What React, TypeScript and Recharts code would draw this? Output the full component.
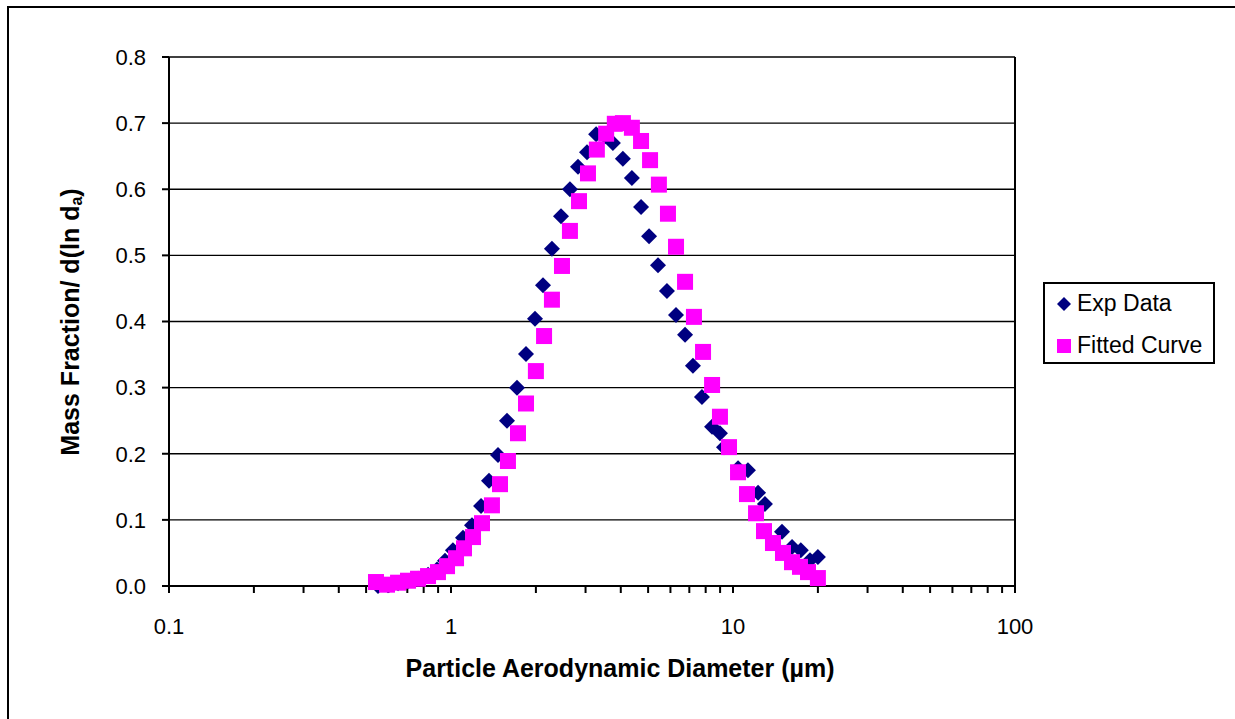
import React from "react";
import {
  ScatterChart,
  Scatter,
  XAxis,
  YAxis,
  CartesianGrid,
  ReferenceLine,
} from "recharts";

// Exp Data (blue diamonds): diameter in µm, mass fraction / d(ln da)
const expDiam = [
  0.551, 0.598, 0.649, 0.704, 0.764, 0.829, 0.892, 0.952, 1.016, 1.103, 1.187,
  1.278, 1.364, 1.468, 1.58, 1.714, 1.845, 1.986, 2.12, 2.28, 2.455, 2.641,
  2.82, 3.035, 3.27, 3.52, 3.75, 4.07, 4.38, 4.72, 5.04, 5.42, 5.83, 6.28,
  6.76, 7.21, 7.76, 8.43, 8.99, 9.29, 10.42, 11.3, 12.27, 12.98, 14.92, 16.2,
  17.4, 18.75, 20.0,
];
const expMass = [
  0.0, 0.001, 0.004, 0.007, 0.011, 0.017, 0.025, 0.038, 0.054, 0.073, 0.092,
  0.121, 0.159, 0.198, 0.25, 0.3, 0.351, 0.404, 0.455, 0.51, 0.559, 0.6,
  0.634, 0.656, 0.683, 0.68, 0.67, 0.646, 0.617, 0.573, 0.529, 0.485, 0.446,
  0.41, 0.38, 0.333, 0.286, 0.241, 0.231, 0.21, 0.178, 0.175, 0.141, 0.124,
  0.082, 0.059, 0.054, 0.039, 0.044,
];

// Fitted Curve (magenta squares)
const fitDiam = [
  0.542, 0.593, 0.649, 0.704, 0.764, 0.829, 0.899, 0.968, 1.042, 1.112, 1.197,
  1.288, 1.397, 1.492, 1.592, 1.728, 1.845, 2.0, 2.138, 2.28, 2.475, 2.641,
  2.844, 3.06, 3.29, 3.55, 3.81, 4.07, 4.38, 4.72, 5.08, 5.46, 5.88, 6.28,
  6.76, 7.27, 7.83, 8.43, 8.99, 9.68, 10.42, 11.21, 12.07, 12.88, 13.86, 15.04,
  16.19, 17.28, 18.45, 20.0,
];
const fitMass = [
  0.006, 0.002, 0.005, 0.008, 0.011, 0.015, 0.021, 0.03, 0.042, 0.057, 0.074,
  0.095, 0.122, 0.154, 0.189, 0.231, 0.276, 0.325, 0.378, 0.433, 0.484, 0.537,
  0.582, 0.624, 0.66, 0.684, 0.699, 0.7, 0.693, 0.673, 0.644, 0.607, 0.563,
  0.513, 0.46, 0.407, 0.354, 0.304, 0.256, 0.21, 0.172, 0.139, 0.11, 0.083,
  0.065, 0.05, 0.036, 0.029, 0.021, 0.012,
];

const decadeTicks = [0.1, 1, 10, 100];
const minorTicks = [
  0.2, 0.3, 0.4, 0.5, 0.6, 0.7, 0.8, 0.9, 2, 3, 4, 5, 6, 7, 8, 9, 20, 30, 40,
  50, 60, 70, 80, 90,
];
const yTicks = [0, 0.1, 0.2, 0.3, 0.4, 0.5, 0.6, 0.7, 0.8];

const expData = expDiam.map((d, i) => ({ d, m: expMass[i] }));
const fitData = fitDiam.map((d, i) => ({ d, m: fitMass[i] }));
const xTicks = [...decadeTicks, ...minorTicks].sort((a, b) => a - b);

const NAVY = "#000080";
const PINK = "#FF00FF";
const FONT = "'Liberation Sans', Arial, sans-serif";

const Diamond = (props: any) => {
  const { cx, cy } = props;
  const r = 8;
  return (
    <polygon
      points={`${cx},${cy - r} ${cx + r},${cy} ${cx},${cy + r} ${cx - r},${cy}`}
      fill={NAVY}
    />
  );
};

const Square = (props: any) => {
  const { cx, cy } = props;
  const s = 16;
  return <rect x={cx - s / 2} y={cy - s / 2} width={s} height={s} fill={PINK} />;
};

const fmtX = (v: number) => (decadeTicks.includes(v) ? String(v) : "");

export default function App() {
  return (
    <div
      style={{
        position: "absolute",
        left: 0,
        top: 0,
        width: 1235,
        height: 719,
        overflow: "hidden",
        background: "#fff",
        fontFamily: FONT,
      }}
    >
      {/* outer chart-area frame */}
      <div
        style={{
          position: "absolute",
          left: 7,
          top: 6,
          width: 1300,
          height: 800,
          borderLeft: "2px solid #000",
          borderTop: "2px solid #000",
        }}
      />
      <ScatterChart
        width={1235}
        height={719}
        margin={{ top: 57, right: 220, bottom: 93, left: 109 }}
        style={{ position: "absolute", left: 0, top: 0 }}
      >
        <CartesianGrid vertical={false} stroke="#000" strokeWidth={1.3} />
        <XAxis
          type="number"
          dataKey="d"
          scale="log"
          domain={[0.1, 100]}
          ticks={xTicks}
          interval={0}
          tickFormatter={fmtX}
          allowDataOverflow
          height={40}
          tickSize={7}
          tickMargin={25}
          stroke="#000"
          strokeWidth={2}
          tick={{ fill: "#000", fontSize: 22, fontFamily: FONT }}
          label={{
            content: () => (
              <text
                x={620}
                y={668}
                textAnchor="middle"
                dominantBaseline="central"
                fontFamily={FONT}
                fontWeight="bold"
                fontSize={25}
                fill="#000"
              >
                Particle Aerodynamic Diameter (µm)
              </text>
            ),
          }}
        />
        <YAxis
          type="number"
          dataKey="m"
          domain={[0, 0.8]}
          ticks={yTicks}
          interval={0}
          tickFormatter={(v: number) => v.toFixed(1)}
          width={60}
          tickSize={7}
          tickMargin={16}
          stroke="#000"
          strokeWidth={2}
          tick={{ fill: "#000", fontSize: 22, fontFamily: FONT }}
          label={{
            content: () => (
              <text
                x={70}
                y={322}
                transform="rotate(-90 70 322)"
                textAnchor="middle"
                dominantBaseline="central"
                fontFamily={FONT}
                fontWeight="bold"
                fontSize={25}
                fill="#000"
              >
                Mass Fraction/ d(ln d
                <tspan fontSize={16} dy={6}>
                  a
                </tspan>
                <tspan dy={-6}>)</tspan>
              </text>
            ),
          }}
        />
        <ReferenceLine x={100} stroke="#000" strokeWidth={2} />
        <Scatter
          name="Exp Data"
          data={expData}
          shape={Diamond}
          isAnimationActive={false}
        />
        <Scatter
          name="Fitted Curve"
          data={fitData}
          shape={Square}
          isAnimationActive={false}
        />
      </ScatterChart>
      {/* legend */}
      <div
        style={{
          position: "absolute",
          left: 1043,
          top: 282,
          width: 168,
          height: 78,
          border: "2px solid #000",
          background: "#fff",
          fontSize: 23,
          color: "#000",
        }}
      >
        <div style={{ position: "absolute", left: 11, top: 6, display: "flex", alignItems: "center" }}>
          <svg width={16} height={16} style={{ marginRight: 5 }}>
            <polygon points="8,1 15,8 8,15 1,8" fill={NAVY} />
          </svg>
          <span>Exp Data</span>
        </div>
        <div style={{ position: "absolute", left: 11, top: 48, display: "flex", alignItems: "center" }}>
          <svg width={16} height={16} style={{ marginRight: 5 }}>
            <rect x={1} y={1} width={14} height={14} fill={PINK} />
          </svg>
          <span>Fitted Curve</span>
        </div>
      </div>
    </div>
  );
}
